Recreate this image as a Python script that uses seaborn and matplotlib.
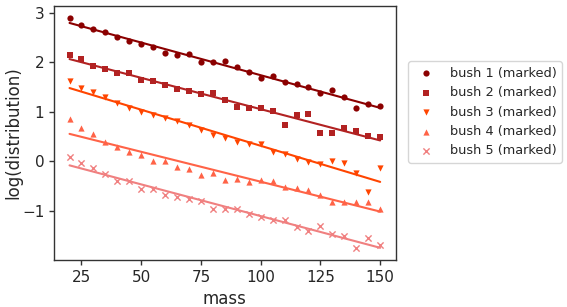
import numpy as np
import pandas as pd
import matplotlib
matplotlib.use("Agg")
import matplotlib.pyplot as plt
import seaborn as sns

mass = [20, 25, 30, 35, 40, 45, 50, 55, 60, 65, 70, 75, 80, 85,
        90, 95, 100, 105, 110, 115, 120, 125, 130, 135, 140, 145, 150]

bush1 = [2.89, 2.76, 2.67, 2.62, 2.52, 2.43, 2.37, 2.31, 2.19, 2.15, 2.17, 2.00, 2.00, 2.02,
         1.90, 1.81, 1.69, 1.72, 1.60, 1.57, 1.50, 1.39, 1.44, 1.30, 1.08, 1.16, 1.12]
bush2 = [2.15, 2.07, 1.92, 1.87, 1.78, 1.78, 1.65, 1.63, 1.54, 1.47, 1.43, 1.36, 1.38, 1.24,
         1.11, 1.09, 1.08, 1.01, 0.73, 0.93, 0.96, 0.58, 0.58, 0.68, 0.62, 0.52, 0.49]
bush3 = [1.63, 1.48, 1.40, 1.31, 1.18, 1.07, 0.99, 0.93, 0.87, 0.82, 0.74, 0.63, 0.53, 0.47,
         0.40, 0.35, 0.35, 0.19, 0.15, 0.04, -0.01, -0.05, 0.00, -0.04, -0.24, -0.61, -0.13]
bush4 = [0.86, 0.67, 0.56, 0.39, 0.30, 0.20, 0.13, 0.00, 0.00, -0.12, -0.16, -0.27, -0.24, -0.37,
         -0.35, -0.42, -0.37, -0.39, -0.52, -0.54, -0.58, -0.68, -0.82, -0.82, -0.82, -0.81, -0.97]
bush5 = [0.10, -0.04, -0.14, -0.25, -0.39, -0.39, -0.56, -0.56, -0.68, -0.71, -0.76, -0.80, -0.96, -0.97,
         -0.96, -1.07, -1.13, -1.18, -1.18, -1.33, -1.40, -1.30, -1.46, -1.50, -1.75, -1.54, -1.69]

labels = ["bush 1 (marked)", "bush 2 (marked)", "bush 3 (marked)",
          "bush 4 (marked)", "bush 5 (marked)"]
series = [bush1, bush2, bush3, bush4, bush5]
colors = ["#8b0000", "#b22222", "#ff4500", "#ff6347", "#f08080"]
markers = ["o", "s", "v", "^", "x"]

sns.set_style("white")
plt.rcParams["font.family"] = ["DejaVu Sans"]

fig = plt.figure(figsize=(5.67, 3.07), dpi=100)
ax = fig.add_axes([54 / 567, 1 - 260 / 307, (395.7 - 54) / 567, (260 - 6) / 307])

for lab, ys, c, m in zip(labels, series, colors, markers):
    df = pd.DataFrame({"mass": mass, "logd": ys})
    sns.regplot(data=df, x="mass", y="logd", ax=ax, ci=None, color=c, marker=m,
                truncate=True, label=lab,
                scatter_kws={"s": 20, "alpha": 1,
                             "linewidths": 1.0 if m == "x" else 0},
                line_kws={"lw": 1.5, "label": None})

ax.set_xlim(13.5, 156.5)
ax.set_ylim(-1.99, 3.14)
ax.set_xticks([25, 50, 75, 100, 125, 150])
ax.set_yticks([-1, 0, 1, 2, 3])
ax.set_xlabel("mass", fontsize=12)
ax.set_ylabel("log(distribution)", fontsize=12)
ax.yaxis.set_label_coords(-0.092, 0.5)
ax.tick_params(axis="both", labelsize=11, length=3.5, width=1, color="#333333",
               bottom=True, left=True)
for s in ax.spines.values():
    s.set_color("#333333")
    s.set_linewidth(1)

handles, labs = ax.get_legend_handles_labels()
keep = [(h, l) for h, l in zip(handles, labs) if l in labels]
ax.legend([h for h, _ in keep], [l for _, l in keep],
          loc="upper left", bbox_to_anchor=(1.018, 0.807), fontsize=9.3,
          frameon=True, handletextpad=0.8, borderpad=0.4, labelspacing=0.5)

fig.savefig("out.png", dpi=100)
